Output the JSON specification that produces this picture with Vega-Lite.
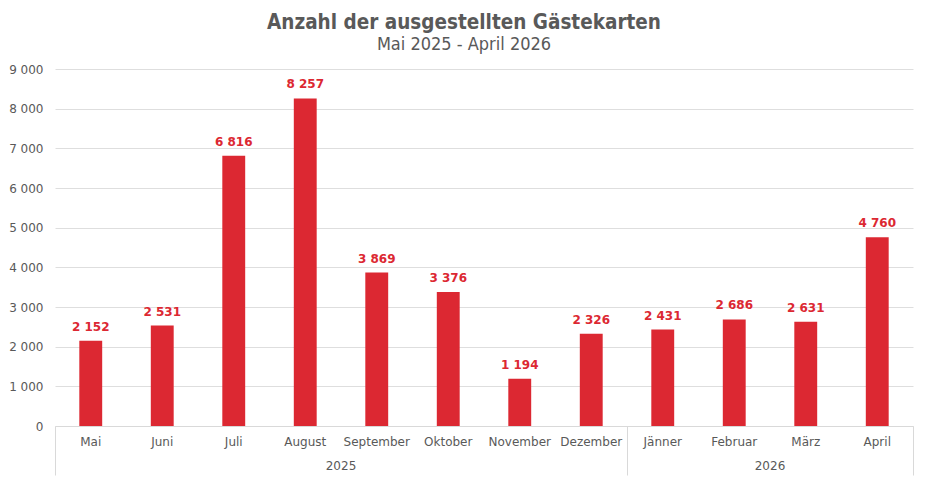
{
  "$schema": "https://vega.github.io/schema/vega-lite/v6.json",
  "width": 858,
  "height": 357,
  "autosize": {"type": "none"},
  "padding": {"left": 55, "top": 69, "right": 15, "bottom": 55},
  "background": "white",
  "config": {
    "locale": {"number": {"decimal": ",", "thousands": " ", "grouping": [3], "currency": ["", " €"]}},
    "view": {"stroke": null},
    "font": "DejaVu Sans"
  },
  "title": {
    "text": "Anzahl der ausgestellten Gästekarten",
    "subtitle": "Mai 2025 - April 2026",
    "font": "DejaVu Sans Condensed",
    "fontWeight": "bold",
    "fontSize": 20.5,
    "color": "#595959",
    "subtitleFont": "DejaVu Sans Condensed",
    "subtitleFontSize": 18,
    "subtitleColor": "#595959",
    "anchor": "middle",
    "dx": -20,
    "offset": 9,
    "subtitlePadding": 3
  },
  "data": {
    "values": [
      {"monat": "Mai", "anzahl": 2152},
      {"monat": "Juni", "anzahl": 2531},
      {"monat": "Juli", "anzahl": 6816},
      {"monat": "August", "anzahl": 8257},
      {"monat": "September", "anzahl": 3869},
      {"monat": "Oktober", "anzahl": 3376},
      {"monat": "November", "anzahl": 1194},
      {"monat": "Dezember", "anzahl": 2326},
      {"monat": "Jänner", "anzahl": 2431},
      {"monat": "Februar", "anzahl": 2686},
      {"monat": "März", "anzahl": 2631},
      {"monat": "April", "anzahl": 4760}
    ]
  },
  "layer": [
    {
      "mark": {"type": "bar", "color": "#DC2832", "width": {"band": 0.32}},
      "encoding": {
        "x": {
          "field": "monat", "type": "nominal", "sort": null,
          "scale": {"paddingInner": 0, "paddingOuter": 0},
          "axis": {"orient": "bottom", "title": null, "labelAngle": 0, "ticks": false, "domainColor": "#d9d9d9", "labelColor": "#595959", "labelFontSize": 12, "labelPadding": 10, "labelFont": "DejaVu Sans"}
        },
        "y": {
          "field": "anzahl", "type": "quantitative",
          "scale": {"domain": [0, 9000], "nice": false},
          "axis": {"title": null, "values": [0, 1000, 2000, 3000, 4000, 5000, 6000, 7000, 8000, 9000], "format": ",d", "domain": false, "ticks": false, "gridColor": "#dedede", "labelColor": "#595959", "labelFontSize": 12, "labelPadding": 12, "labelFont": "DejaVu Sans", "labelOverlap": false}
        }
      }
    },
    {
      "mark": {"type": "text", "color": "#DC2832", "fontWeight": "bold", "fontSize": 12, "baseline": "bottom", "dy": -7, "font": "DejaVu Sans"},
      "encoding": {
        "x": {"field": "monat", "type": "nominal", "sort": null, "scale": {"paddingInner": 0, "paddingOuter": 0}, "axis": null},
        "y": {
          "field": "anzahl", "type": "quantitative",
          "axis": {"title": null, "values": [0, 1000, 2000, 3000, 4000, 5000, 6000, 7000, 8000, 9000], "format": ",d", "domain": false, "ticks": false, "gridColor": "#dedede", "labelColor": "#595959", "labelFontSize": 12, "labelPadding": 12, "labelFont": "DejaVu Sans", "labelOverlap": false}
        },
        "text": {"field": "anzahl", "type": "quantitative", "format": ",d"}
      }
    },
    {
      "data": {"values": [{"jahr": "2025", "mitte": 4}, {"jahr": "2026", "mitte": 10}]},
      "mark": {"type": "text", "color": "#595959", "fontSize": 12, "baseline": "middle", "dy": 40, "font": "DejaVu Sans"},
      "encoding": {
        "x": {
          "field": "mitte", "type": "quantitative",
          "scale": {"domain": [0, 12], "nice": false, "zero": false},
          "axis": {"orient": "bottom", "title": null, "values": [0, 8, 12], "labels": false, "grid": false, "domain": false, "tickSize": 49, "tickColor": "#d9d9d9"}
        },
        "y": {
          "datum": 0, "type": "quantitative",
          "axis": {"title": null, "values": [0, 1000, 2000, 3000, 4000, 5000, 6000, 7000, 8000, 9000], "format": ",d", "domain": false, "ticks": false, "gridColor": "#dedede", "labelColor": "#595959", "labelFontSize": 12, "labelPadding": 12, "labelFont": "DejaVu Sans", "labelOverlap": false}
        },
        "text": {"field": "jahr"}
      }
    }
  ],
  "resolve": {"scale": {"x": "independent"}, "axis": {"x": "independent"}}
}
